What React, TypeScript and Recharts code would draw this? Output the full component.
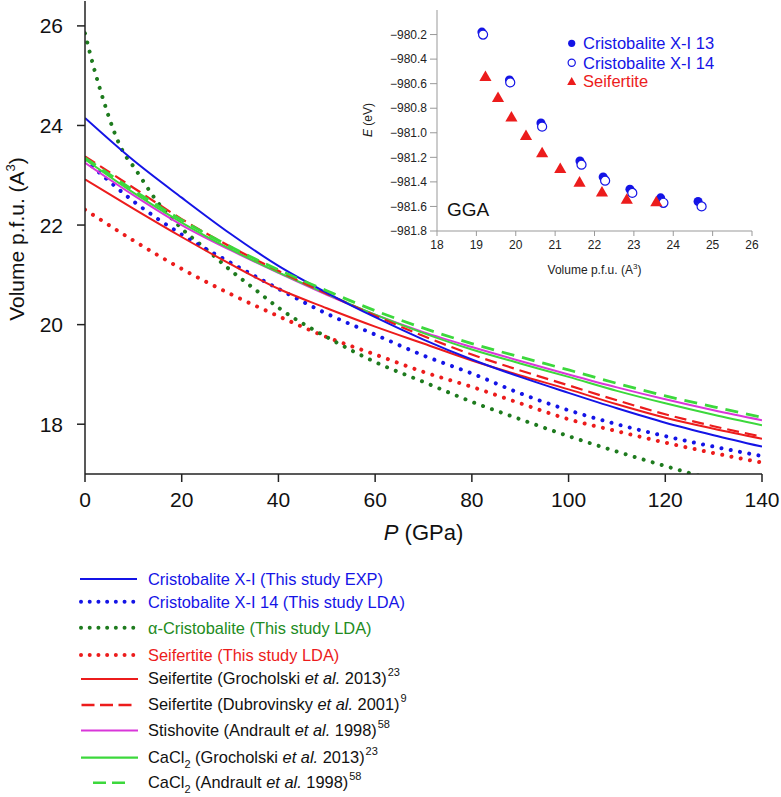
import React from "react";
import { LineChart, Line, XAxis, YAxis, ScatterChart, Scatter, ZAxis } from "recharts";

// main panel: volume per formula unit vs pressure
const pressure = [0, 10, 20, 30, 40, 50, 60, 70, 80, 90, 100, 110, 120, 130, 140];
const cristobaliteExp = [24.15, 23.3, 22.55, 21.83, 21.18, 20.64, 20.15, 19.7, 19.3, 18.95, 18.63, 18.32, 18.03, 17.78, 17.55];
const cristobalite14Lda = [23.31, 22.48, 21.81, 21.25, 20.72, 20.22, 19.8, 19.38, 19.02, 18.62, 18.28, 18.0, 17.76, 17.55, 17.36];
const seifertiteLda = [22.31, 21.69, 21.12, 20.62, 20.17, 19.75, 19.4, 19.05, 18.75, 18.42, 18.1, 17.86, 17.63, 17.42, 17.23];
const seifertiteGrocholski = [22.92, 22.33, 21.76, 21.22, 20.72, 20.33, 19.96, 19.62, 19.28, 18.98, 18.7, 18.4, 18.13, 17.91, 17.71];
const seifertiteDubrovinsky = [23.38, 22.75, 22.12, 21.57, 21.08, 20.62, 20.18, 19.77, 19.4, 19.08, 18.78, 18.48, 18.2, 17.96, 17.75];
const stishoviteAndrault = [23.25, 22.6, 22.0, 21.5, 21.04, 20.6, 20.2, 19.85, 19.55, 19.27, 19.0, 18.74, 18.5, 18.28, 18.08];
const cacl2Grocholski = [23.32, 22.65, 22.05, 21.52, 21.05, 20.62, 20.2, 19.83, 19.5, 19.22, 18.95, 18.67, 18.42, 18.19, 17.98];
const cacl2Andrault = [23.35, 22.7, 22.1, 21.57, 21.1, 20.68, 20.28, 19.93, 19.62, 19.35, 19.09, 18.82, 18.57, 18.35, 18.14];

// alpha-cristobalite drops fast at low P, so it is read more densely there
const alphaPressure = [0, 2, 4, 6, 8, 10, 15, 20, 25, 30, 35, 40, 50, 60, 70, 80, 90, 100, 110, 120, 130, 140];
const alphaCristobalite = [25.85, 25.1, 24.45, 23.88, 23.45, 23.18, 22.46, 21.93, 21.52, 21.1, 20.72, 20.34, 19.75, 19.25, 18.85, 18.45, 18.1, 17.76, 17.45, 17.16, 16.88, 16.6];

const pressureTicks = [0, 20, 40, 60, 80, 100, 120, 140];
const volumeTicks = [18, 20, 22, 24, 26];

// inset: GGA energies
const cx13Volume = [19.14, 19.84, 20.64, 21.63, 22.22, 22.9, 23.68, 24.63];
const cx13Energy = [-980.18, -980.57, -980.92, -981.23, -981.36, -981.46, -981.53, -981.56];
const cx14Volume = [19.17, 19.86, 20.67, 21.67, 22.27, 22.96, 23.75, 24.72];
const cx14Energy = [-980.2, -980.59, -980.95, -981.26, -981.39, -981.49, -981.57, -981.6];
const seifVolume = [19.23, 19.55, 19.89, 20.26, 20.67, 21.13, 21.62, 22.19, 22.82, 23.57];
const seifEnergy = [-980.55, -980.72, -980.88, -981.03, -981.17, -981.3, -981.41, -981.49, -981.55, -981.57];

const insetVolumeTicks = [18, 19, 20, 21, 22, 23, 24, 25, 26];
const insetEnergyTicks = [-980.2, -980.4, -980.6, -980.8, -981.0, -981.2, -981.4, -981.6, -981.8];

const BLUE = "#1414e6";
const DKGREEN = "#1e7b1e";
const RED = "#ec1c1c";
const MAGENTA = "#d936d9";
const LTGREEN = "#3cd83c";
const FONT = "'Liberation Sans', Arial, sans-serif";

const toPoints = (xs: number[], ys: number[]) => xs.map((x, i) => ({ x, y: ys[i] }));

const DOT_DASH = "0.01 9.4";
const DOT_WIDTH = 4;

const series = [
  { name: "seifLda", data: toPoints(pressure, seifertiteLda), stroke: RED, dotted: true },
  { name: "alpha", data: toPoints(alphaPressure, alphaCristobalite), stroke: DKGREEN, dotted: true },
  { name: "cx14", data: toPoints(pressure, cristobalite14Lda), stroke: BLUE, dotted: true },
  { name: "seifG", data: toPoints(pressure, seifertiteGrocholski), stroke: RED, width: 2 },
  { name: "stish", data: toPoints(pressure, stishoviteAndrault), stroke: MAGENTA, width: 2 },
  { name: "cacl2G", data: toPoints(pressure, cacl2Grocholski), stroke: LTGREEN, width: 2 },
  { name: "seifD", data: toPoints(pressure, seifertiteDubrovinsky), stroke: RED, width: 2.2, dash: "12 6" },
  { name: "cxExp", data: toPoints(pressure, cristobaliteExp), stroke: BLUE, width: 2 },
  { name: "cacl2A", data: toPoints(pressure, cacl2Andrault), stroke: LTGREEN, width: 2.8, dash: "13 8" },
];

function Sup({ children }: { children: React.ReactNode }) {
  return <span style={{ fontSize: 11, position: "relative", top: -8, marginLeft: 1 }}>{children}</span>;
}
function Sub({ children }: { children: React.ReactNode }) {
  return <span style={{ fontSize: 11, position: "relative", top: 5 }}>{children}</span>;
}

const legendRows = [
  { y: 579, stroke: BLUE, x1: 80, x2: 137, color: BLUE, label: <>Cristobalite X-I (This study EXP)</> },
  { y: 601.7, stroke: BLUE, dotted: true, x1: 81, x2: 134, color: BLUE, label: <>Cristobalite X-I 14 (This study LDA)</> },
  { y: 627.7, stroke: DKGREEN, dotted: true, x1: 81, x2: 134, color: "#228b22", label: <>α-Cristobalite (This study LDA)</> },
  { y: 655, stroke: RED, dotted: true, x1: 81, x2: 134, color: RED, label: <>Seifertite (This study LDA)</> },
  { y: 679, stroke: RED, x1: 81, x2: 138, color: "#111", label: <>Seifertite (Grocholski <i>et al.</i> 2013)<Sup>23</Sup></> },
  { y: 705, stroke: RED, dash: "13 5.5", x1: 81.5, x2: 131.5, color: "#111", label: <>Seifertite (Dubrovinsky <i>et al.</i> 2001)<Sup>9</Sup></> },
  { y: 730.5, stroke: MAGENTA, x1: 81, x2: 138, color: "#111", label: <>Stishovite (Andrault <i>et al.</i> 1998)<Sup>58</Sup></> },
  { y: 757.7, stroke: LTGREEN, x1: 81, x2: 138, color: "#111", label: <>CaCl<Sub>2</Sub> (Grocholski <i>et al.</i> 2013)<Sup>23</Sup></> },
  { y: 782.7, stroke: LTGREEN, dash: "13 6", x1: 93, x2: 125, color: "#111", label: <>CaCl<Sub>2</Sub> (Andrault <i>et al.</i> 1998)<Sup>58</Sup></> },
];

const insetLegend = [
  { y: 43.3, color: BLUE, text: "Cristobalite X-I 13" },
  { y: 62.7, color: BLUE, text: "Cristobalite X-I 14" },
  { y: 81.3, color: RED, text: "Seifertite" },
];

const fmtEnergy = (v: number) => v.toFixed(1).replace("-", "\u2212");

export default function App() {
  return (
    <div style={{ position: "absolute", left: 0, top: 0, width: 781, height: 797, background: "#fff", fontFamily: FONT }}>
      <LineChart width={781} height={560} margin={{ top: 1, right: 19, left: 0, bottom: 26 }}>
        <XAxis
          dataKey="x"
          type="number"
          domain={[0, 140]}
          ticks={pressureTicks}
          height={60}
          tickSize={8}
          tickMargin={10}
          stroke="#222"
          strokeWidth={1.5}
          tick={{ fontSize: 21, fill: "#111", fontFamily: FONT }}
          allowDataOverflow
        />
        <XAxis xAxisId="top" orientation="top" type="number" domain={[0, 140]} height={0} tick={false} tickLine={false} stroke="#222" strokeWidth={1.5} />
        <YAxis
          type="number"
          domain={[17, 26.5]}
          ticks={volumeTicks}
          width={85}
          tickSize={8}
          tickMargin={14}
          stroke="#222"
          strokeWidth={1.5}
          tick={{ fontSize: 21, fill: "#111", fontFamily: FONT }}
          allowDataOverflow
        />
        <YAxis yAxisId="right" orientation="right" type="number" domain={[17, 26.5]} width={0} tick={false} tickLine={false} stroke="#222" strokeWidth={1.5} />
        {series.map((s) => (
          <Line
            key={s.name}
            data={s.data}
            dataKey="y"
            type="monotone"
            dot={false}
            activeDot={false}
            isAnimationActive={false}
            stroke={s.stroke}
            strokeWidth={s.dotted ? DOT_WIDTH : s.width}
            strokeDasharray={s.dotted ? DOT_DASH : s.dash}
            strokeLinecap={s.dotted ? "round" : "butt"}
          />
        ))}
      </LineChart>

      {/* main axis titles */}
      <div style={{ position: "absolute", left: 18, top: 239, width: 0, height: 0 }}>
        <div style={{ position: "absolute", left: 0, top: 0, transform: "translate(-50%, -50%) rotate(-90deg)", whiteSpace: "nowrap", fontSize: 21, lineHeight: "24px", color: "#111" }}>
          Volume p.f.u. (A<span style={{ fontSize: 13, position: "relative", top: -9 }}>3</span>)
        </div>
      </div>
      <div style={{ position: "absolute", left: 423.5, top: 533, transform: "translate(-50%, -50%)", whiteSpace: "nowrap", fontSize: 22, lineHeight: "26px", color: "#111" }}>
        <i>P</i> (GPa)
      </div>

      {/* inset */}
      <div style={{ position: "absolute", left: 340, top: 0 }}>
        <ScatterChart width={420} height={290} margin={{ top: 10, right: 8, left: 0, bottom: 0 }}>
          <XAxis
            dataKey="x"
            type="number"
            domain={[18, 26]}
            ticks={insetVolumeTicks}
            height={59}
            tickSize={5}
            tickMargin={4}
            stroke="#999"
            tick={{ fontSize: 12, fill: "#222", fontFamily: FONT }}
          />
          <XAxis xAxisId="top" orientation="top" type="number" domain={[18, 26]} height={0} tick={false} tickLine={false} stroke="#999" />
          <YAxis
            dataKey="y"
            type="number"
            domain={[-981.8, -980.0]}
            ticks={insetEnergyTicks}
            tickFormatter={fmtEnergy}
            width={97}
            tickSize={7}
            tickMargin={3}
            stroke="#999"
            tick={{ fontSize: 12, fill: "#222", fontFamily: FONT }}
          />
          <YAxis yAxisId="right" orientation="right" type="number" domain={[-981.8, -980.0]} width={0} tick={false} tickLine={false} stroke="#999" />
          <ZAxis range={[44, 44]} />
          <ZAxis zAxisId="tri" range={[34, 34]} />
          <Scatter data={toPoints(cx13Volume, cx13Energy)} shape="circle" fill={BLUE} isAnimationActive={false} />
          <Scatter data={toPoints(cx14Volume, cx14Energy)} shape="circle" fill="#fff" stroke={BLUE} strokeWidth={1.2} isAnimationActive={false} />
          <Scatter data={toPoints(seifVolume, seifEnergy)} zAxisId="tri" shape="triangle" fill={RED} isAnimationActive={false} />
        </ScatterChart>
      </div>
      <div style={{ position: "absolute", left: 368, top: 120, width: 0, height: 0 }}>
        <div style={{ position: "absolute", left: 0, top: 0, transform: "translate(-50%, -50%) rotate(-90deg)", whiteSpace: "nowrap", fontSize: 12, lineHeight: "14px", color: "#222" }}>
          <i>E</i> (eV)
        </div>
      </div>
      <div style={{ position: "absolute", left: 594.5, top: 271, transform: "translate(-50%, -50%)", whiteSpace: "nowrap", fontSize: 12, lineHeight: "14px", color: "#222" }}>
        Volume p.f.u. (A<span style={{ fontSize: 8, position: "relative", top: -5 }}>3</span>)
      </div>
      <div style={{ position: "absolute", left: 447, top: 210, transform: "translateY(-50%)", fontSize: 19, lineHeight: "22px", color: "#111" }}>GGA</div>

      {/* inset legend */}
      <svg width={781} height={100} style={{ position: "absolute", left: 0, top: 0, overflow: "visible" }}>
        <circle cx={571.7} cy={43.3} r={3.6} fill={BLUE} />
        <circle cx={571.7} cy={62.7} r={3.6} fill="#fff" stroke={BLUE} strokeWidth={1.2} />
        <polygon points="571.7,77 567.2,85 576.2,85" fill={RED} />
      </svg>
      {insetLegend.map((r) => (
        <div key={r.text} style={{ position: "absolute", left: 583, top: r.y, transform: "translateY(-50%)", fontSize: 16.5, lineHeight: "19px", color: r.color, whiteSpace: "nowrap" }}>
          {r.text}
        </div>
      ))}

      {/* main legend */}
      <svg width={781} height={797} style={{ position: "absolute", left: 0, top: 0, pointerEvents: "none" }}>
        {legendRows.map((r, i) => (
          <line
            key={i}
            x1={r.x1}
            x2={r.x2}
            y1={r.y}
            y2={r.y}
            stroke={r.stroke}
            strokeWidth={r.dotted ? DOT_WIDTH : r.dash ? 2.6 : 2.2}
            strokeDasharray={r.dotted ? "0.01 8.7" : r.dash}
            strokeLinecap={r.dotted ? "round" : "butt"}
          />
        ))}
      </svg>
      {legendRows.map((r, i) => (
        <div key={i} style={{ position: "absolute", left: 148, top: r.y, transform: "translateY(-50%)", fontSize: 16.4, lineHeight: "19px", color: r.color, whiteSpace: "nowrap" }}>
          {r.label}
        </div>
      ))}
    </div>
  );
}
